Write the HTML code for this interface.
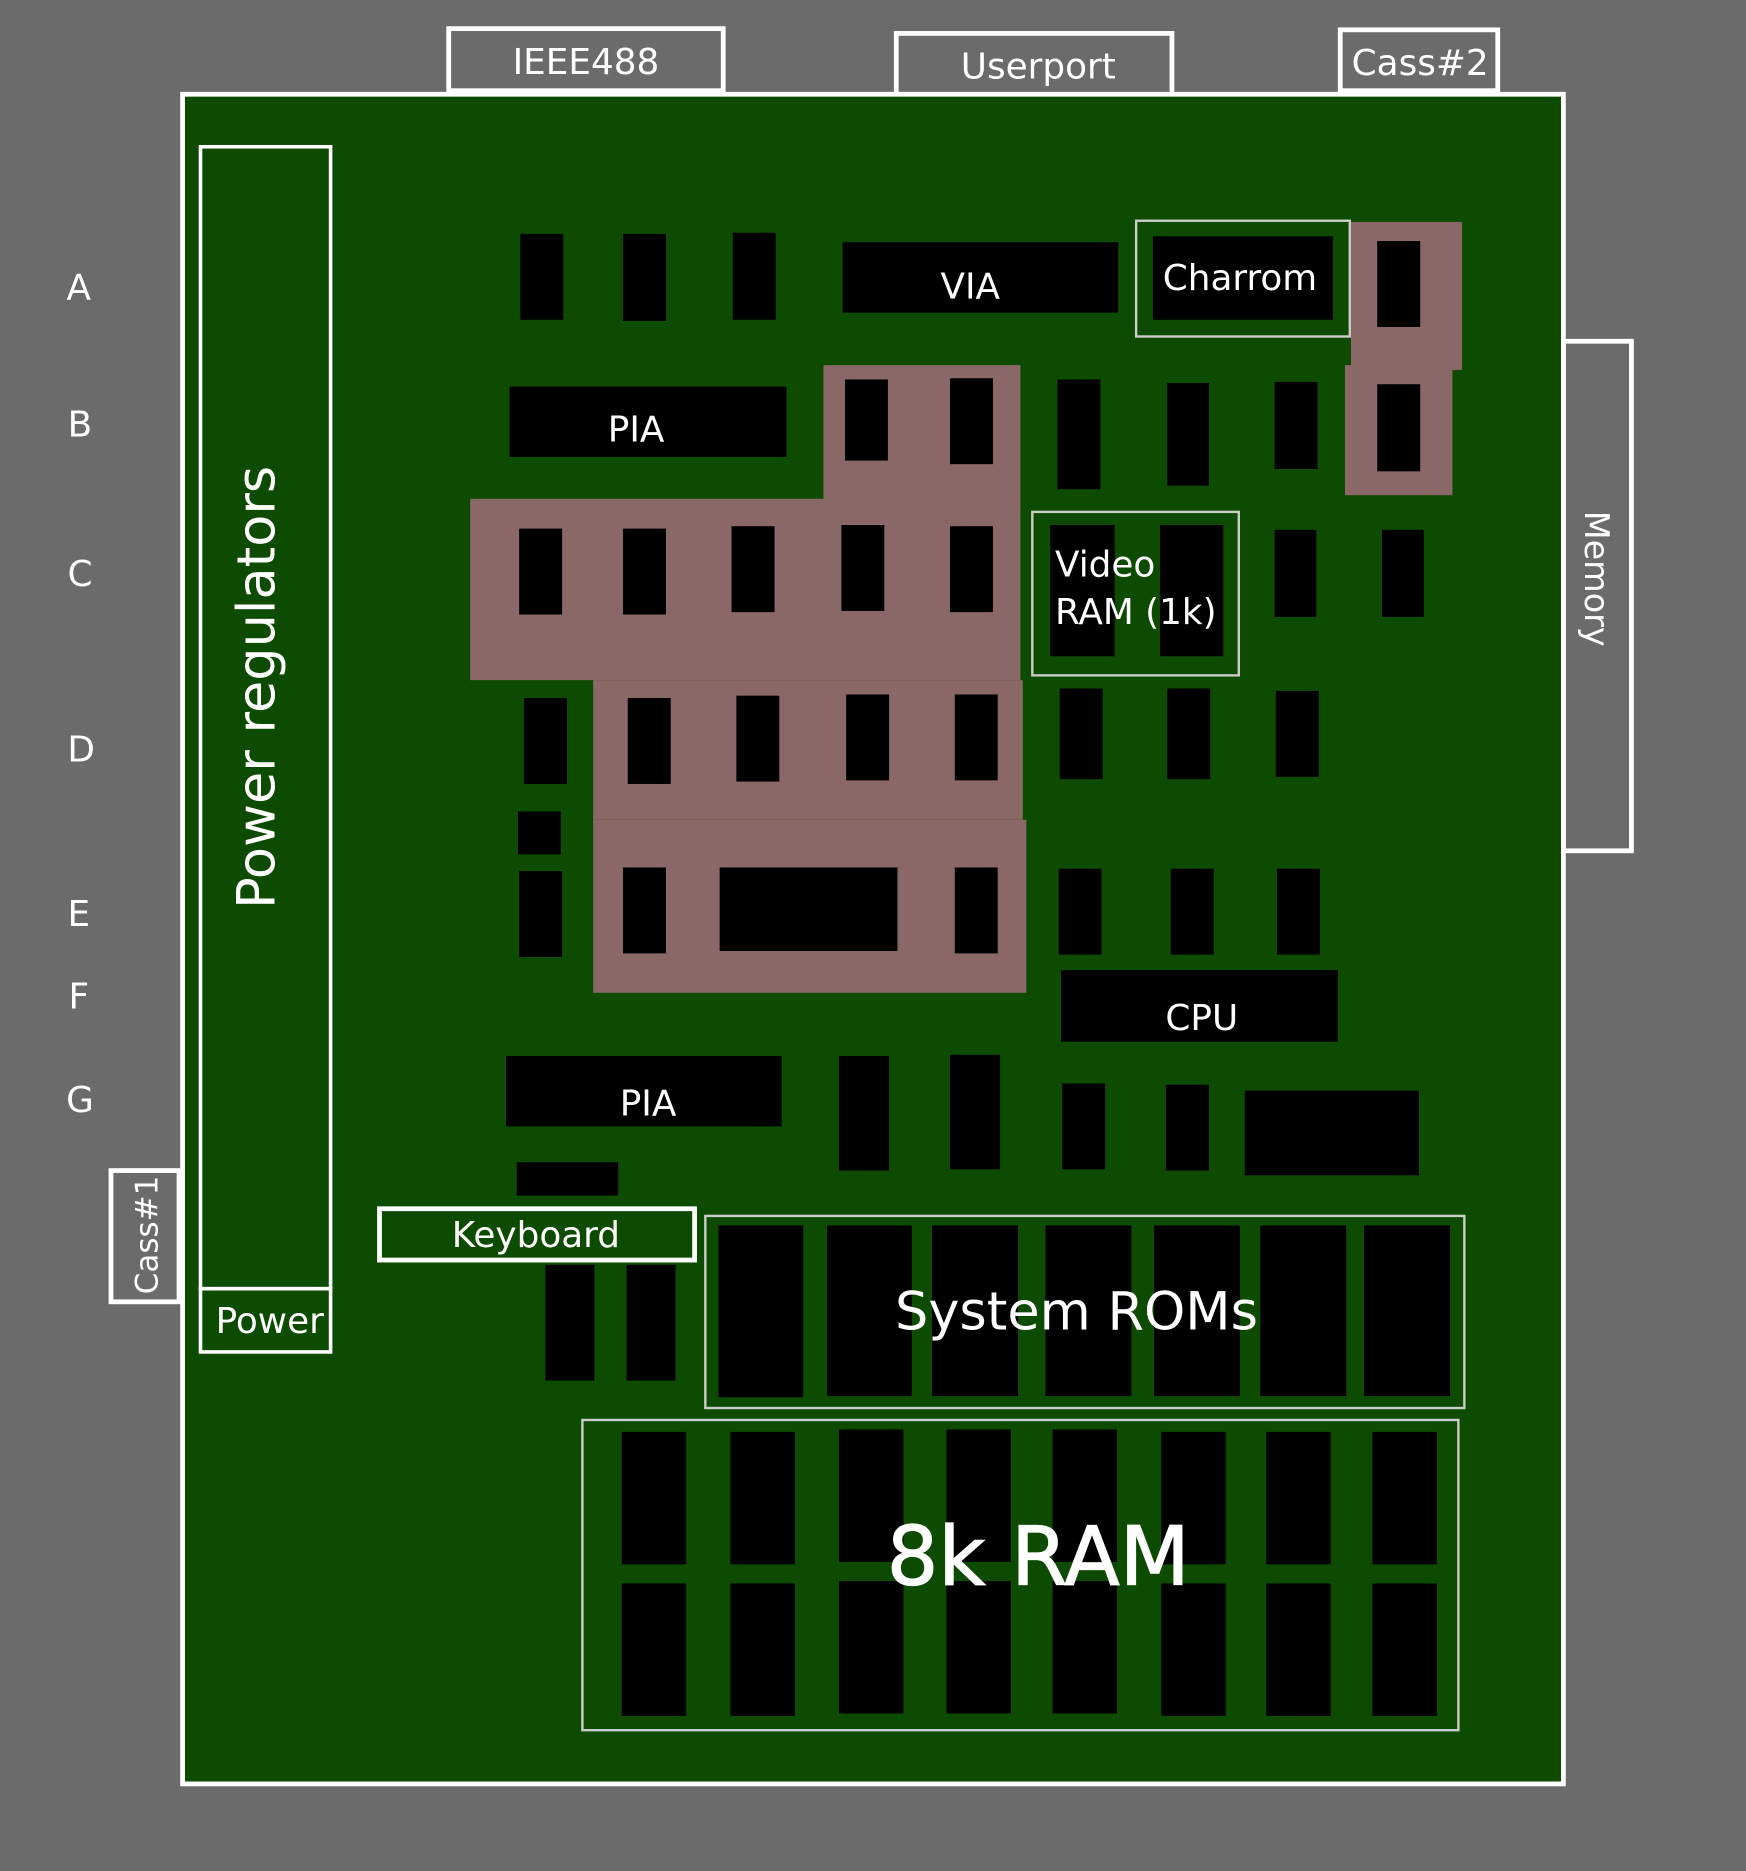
<!DOCTYPE html>
<html><head><meta charset="utf-8"><style>
html,body{margin:0;padding:0;background:#6b6b6b;}
svg{display:block}
text{font-family:"DejaVu Sans","Liberation Sans",sans-serif;fill:#fff}
</style></head><body>
<svg width="1746" height="1871" viewBox="0 0 1463 1568" preserveAspectRatio="none" xmlns="http://www.w3.org/2000/svg">
<rect x="0" y="0" width="1463" height="1568" fill="#6b6b6b"/>
<g fill="#6b6b6b" stroke="#fff" stroke-width="4">
<rect x="376" y="24" width="230" height="52"/>
<rect x="751" y="28" width="231" height="52"/>
<rect x="1123" y="25" width="132" height="51"/>
<rect x="1310" y="286" width="57" height="427"/>
<rect x="93" y="981" width="57" height="110"/>
</g>
<rect x="153" y="79" width="1157" height="1416" fill="#0d4c00" stroke="#fff" stroke-width="4"/>
<text x="491" y="62" font-size="30" text-anchor="middle">IEEE488</text>
<text x="870" y="66" font-size="30" text-anchor="middle">Userport</text>
<text x="1190" y="63" font-size="30" text-anchor="middle">Cass#2</text>
<text transform="translate(1328,485) rotate(90)" font-size="28" text-anchor="middle">Memory</text>
<text transform="translate(132,1035) rotate(-90)" font-size="26" text-anchor="middle">Cass#1</text>
<g font-size="30" text-anchor="middle">
<text x="66" y="251">A</text><text x="67" y="366">B</text><text x="67" y="491">C</text>
<text x="68" y="638">D</text><text x="66" y="776">E</text><text x="66" y="845">F</text><text x="67" y="932">G</text>
</g>
<g fill="none" stroke="#fff" stroke-width="3">
<rect x="168" y="123" width="109" height="957"/>
<rect x="168" y="1080" width="109" height="53"/>
</g>
<text transform="translate(230,576) rotate(-90)" font-size="44" text-anchor="middle">Power regulators</text>
<text x="226" y="1117" font-size="30" text-anchor="middle">Power</text>
<g fill="#8b6868">
<rect x="1132" y="186" width="93" height="124"/>
<rect x="1127" y="306" width="90" height="109"/>
<rect x="690" y="306" width="165" height="114"/>
<rect x="394" y="418" width="461" height="152"/>
<rect x="497" y="570" width="360" height="117"/>
<rect x="497" y="687" width="363" height="145"/>
</g>
<g fill="none" stroke="#ccc" stroke-width="2">
<rect x="952" y="185" width="179" height="97"/>
<rect x="865" y="429" width="173" height="137"/>
<rect x="591" y="1019" width="636" height="161"/>
<rect x="488" y="1190" width="734" height="260"/>
</g>
<g fill="#000">
<rect x="436" y="196" width="36" height="72"/><rect x="522" y="196" width="36" height="73"/><rect x="614" y="195" width="36" height="73"/>
<rect x="706" y="203" width="231" height="59"/><rect x="966" y="198" width="151" height="70"/><rect x="1154" y="202" width="36" height="72"/>
<rect x="427" y="324" width="232" height="59"/><rect x="708" y="318" width="36" height="68"/><rect x="796" y="317" width="36" height="72"/>
<rect x="886" y="318" width="36" height="92"/><rect x="978" y="321" width="35" height="86"/><rect x="1068" y="320" width="36" height="73"/><rect x="1154" y="322" width="36" height="73"/>
<rect x="435" y="443" width="36" height="72"/><rect x="522" y="443" width="36" height="72"/><rect x="613" y="441" width="36" height="72"/><rect x="705" y="440" width="36" height="72"/><rect x="796" y="441" width="36" height="72"/>
<rect x="880" y="440" width="54" height="110"/><rect x="972" y="440" width="53" height="110"/><rect x="1068" y="444" width="35" height="73"/><rect x="1158" y="444" width="35" height="73"/>
<rect x="439" y="585" width="36" height="72"/><rect x="526" y="585" width="36" height="72"/><rect x="617" y="583" width="36" height="72"/><rect x="709" y="582" width="36" height="72"/><rect x="800" y="582" width="36" height="72"/>
<rect x="888" y="577" width="36" height="76"/><rect x="978" y="577" width="36" height="76"/><rect x="1069" y="579" width="36" height="72"/>
<rect x="434" y="680" width="36" height="36"/>
<rect x="435" y="730" width="36" height="72"/><rect x="522" y="727" width="36" height="72"/><rect x="603" y="727" width="149" height="70"/><rect x="800" y="727" width="36" height="72"/>
<rect x="887" y="728" width="36" height="72"/><rect x="981" y="728" width="36" height="72"/><rect x="1070" y="728" width="36" height="72"/>
<rect x="889" y="813" width="232" height="60"/>
<rect x="424" y="885" width="231" height="59"/><rect x="703" y="885" width="42" height="96"/><rect x="796" y="884" width="42" height="96"/>
<rect x="890" y="908" width="36" height="72"/><rect x="977" y="909" width="36" height="72"/><rect x="1043" y="914" width="146" height="71"/>
<rect x="433" y="974" width="85" height="28"/>
<rect x="457" y="1060" width="41" height="97"/><rect x="525" y="1060" width="41" height="97"/>
<rect x="602" y="1027" width="71" height="144"/><rect x="693" y="1027" width="71" height="143"/><rect x="781" y="1027" width="72" height="143"/><rect x="876" y="1027" width="72" height="143"/><rect x="967" y="1027" width="72" height="143"/><rect x="1056" y="1027" width="72" height="143"/><rect x="1143" y="1027" width="72" height="143"/>
<rect x="521" y="1200" width="54" height="111"/><rect x="612" y="1200" width="54" height="111"/><rect x="703" y="1198" width="54" height="111"/><rect x="793" y="1198" width="54" height="111"/><rect x="882" y="1198" width="54" height="111"/><rect x="973" y="1200" width="54" height="111"/><rect x="1061" y="1200" width="54" height="111"/><rect x="1150" y="1200" width="54" height="111"/>
<rect x="521" y="1327" width="54" height="111"/><rect x="612" y="1327" width="54" height="111"/><rect x="703" y="1325" width="54" height="111"/><rect x="793" y="1325" width="54" height="111"/><rect x="882" y="1325" width="54" height="111"/><rect x="973" y="1327" width="54" height="111"/><rect x="1061" y="1327" width="54" height="111"/><rect x="1150" y="1327" width="54" height="111"/>
</g>
<rect x="318" y="1013" width="264" height="43" fill="#0d4c00" stroke="#fff" stroke-width="4"/>
<text x="449" y="1045" font-size="30" text-anchor="middle">Keyboard</text>
<g font-size="30" text-anchor="middle">
<text x="813" y="250">VIA</text>
<text x="1039" y="243">Charrom</text>
<text x="533" y="370">PIA</text>
<text x="1007" y="863">CPU</text>
<text x="543" y="935">PIA</text>
</g>
<text x="884" y="483" font-size="30">Video</text>
<text x="884" y="523" font-size="30">RAM (1k)</text>
<text x="902" y="1114" font-size="44" text-anchor="middle">System ROMs</text>
<text x="870" y="1328" font-size="68" text-anchor="middle" stroke="#fff" stroke-width="1">8k RAM</text>
</svg>
</body></html>
